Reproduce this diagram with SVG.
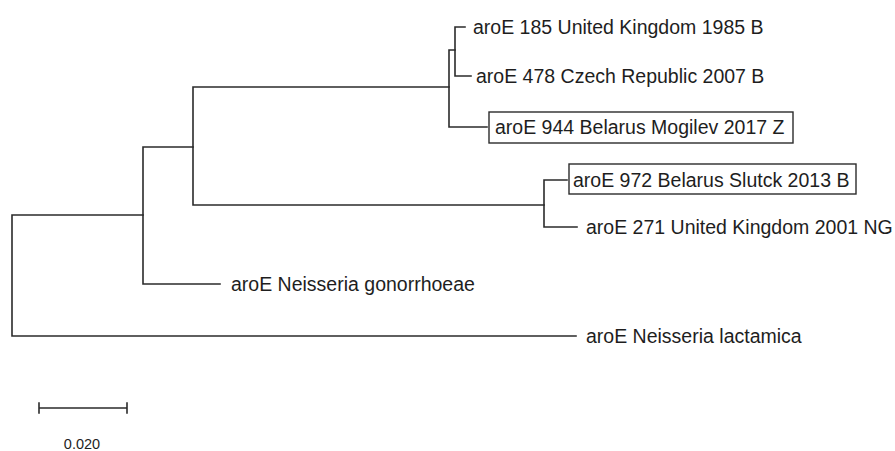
<svg xmlns="http://www.w3.org/2000/svg" width="895" height="451" viewBox="0 0 895 451">
<style>
.br{fill:none;stroke:#2b2b2b;stroke-width:1.6;stroke-linecap:square}
.lb{font-family:"Liberation Sans",Arial,sans-serif;font-size:19.5px;fill:#1e1e1e}
.bx{fill:none;stroke:#2b2b2b;stroke-width:1.4}
.sc{font-family:"Liberation Sans",Arial,sans-serif;font-size:14.5px;fill:#1e1e1e}
</style>
<rect width="895" height="451" fill="#ffffff"/>
<g id="connectors">
<path class="br" d="M12,215 V336 M12,215 H143 M12,336 H576"/>
<path class="br" d="M143,147 V284 M143,147 H193 M143,284 H220"/>
<path class="br" d="M193,87 V205 M193,87 H449 M193,205 H544"/>
<path class="br" d="M449,50 V127 M449,50 H455 M449,127 H487"/>
<path class="br" d="M455,27 V76 M455,27 H465 M455,76 H471"/>
<path class="br" d="M544,180 V227 M544,180 H567 M544,227 H577"/>
</g>
<g id="n185"><text class="lb" x="473" y="34">aroE 185 United Kingdom 1985 B</text></g>
<g id="n478"><text class="lb" x="476" y="83">aroE 478 Czech Republic 2007 B</text></g>
<g id="n944"><rect class="bx" x="489" y="112" width="304" height="31"/><text class="lb" x="495" y="134">aroE 944 Belarus Mogilev 2017 Z</text></g>
<g id="n972"><rect class="bx" x="569" y="164" width="287" height="30"/><text class="lb" x="573" y="187">aroE 972 Belarus Slutck 2013 B</text></g>
<g id="n271"><text class="lb" x="586" y="234">aroE 271 United Kingdom 2001 NG</text></g>
<g id="ngon"><text class="lb" x="231" y="291">aroE Neisseria gonorrhoeae</text></g>
<g id="nlac"><text class="lb" x="586" y="343">aroE Neisseria lactamica</text></g>
<g id="scale">
<path class="br" d="M39,408 H127 M39,403 V413 M127,403 V413"/>
<text class="sc" x="82" y="449" text-anchor="middle">0.020</text>
</g>
</svg>
